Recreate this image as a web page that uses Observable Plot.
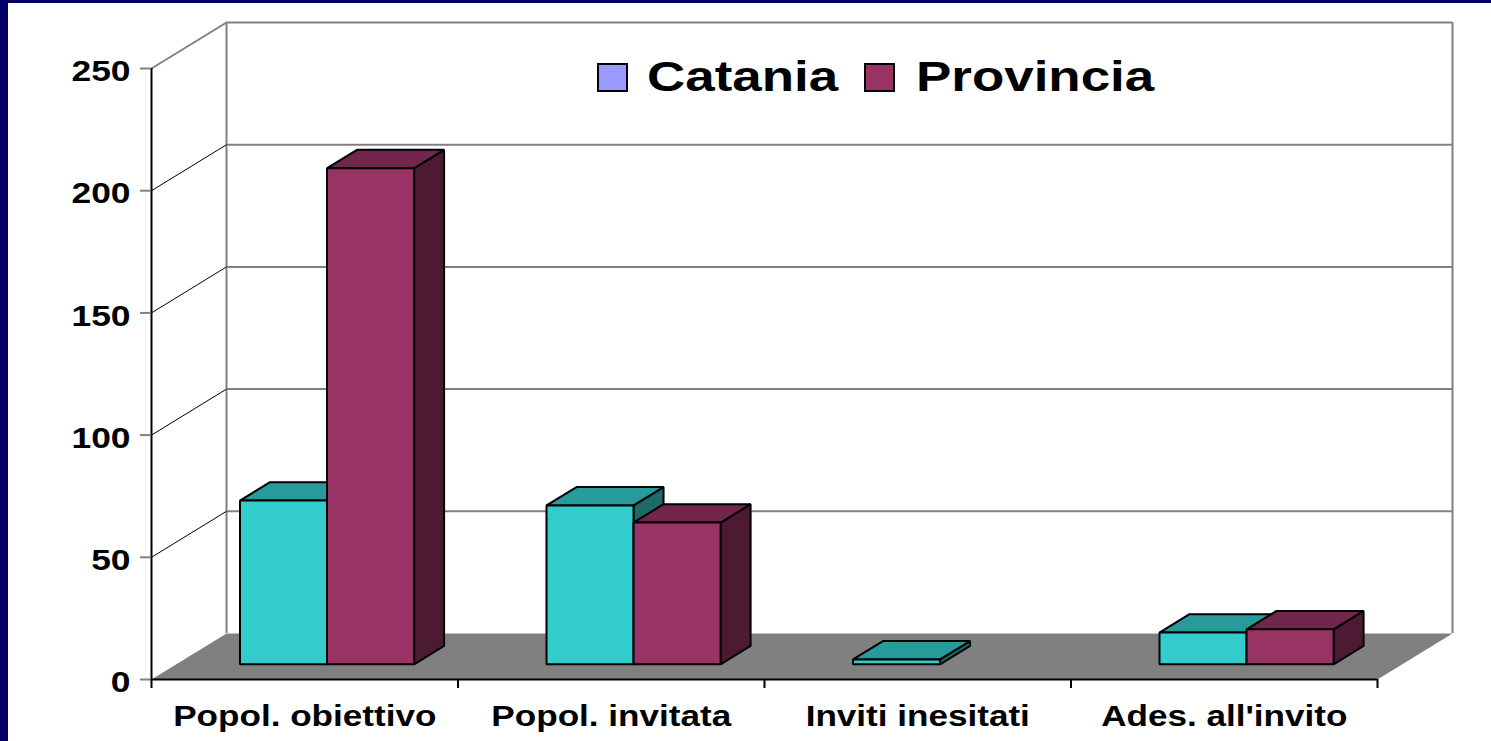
<!DOCTYPE html>
<html>
<head>
<meta charset="utf-8">
<script src="https://cdn.jsdelivr.net/npm/d3@7"></script>
<script src="https://cdn.jsdelivr.net/npm/@observablehq/plot@0.6"></script>
<style>
  html, body { margin: 0; padding: 0; }
  body { width: 1491px; height: 741px; background: #000066; position: relative; overflow: hidden;
         font-family: "Liberation Sans", Arial, sans-serif; font-weight: bold; }
  #chart { position: absolute; left: 8px; top: 3px; width: 1483px; height: 738px; background: #ffffff; }
  .lbox { position: absolute; box-sizing: border-box; border: 2px solid #000; }
  .ltext { position: absolute; font-size: 42px; line-height: 42px; color: #000; white-space: nowrap;
           transform: scaleX(1.26); transform-origin: left center; }
</style>
</head>
<body>
<div id="chart"></div>
<div id="legend"></div>
<script>
// ---- data ----
const categories = ["Popol. obiettivo", "Popol. invitata", "Inviti inesitati", "Ades. all'invito"];
const seriesNames = ["Catania", "Provincia"];
const catania = [67, 65, 2, 13];
const provincia = [203, 58, 0, 14.3];
const yTicks = [0, 50, 100, 150, 200, 250];
const legendColors = ["#9999FF", "#993366"];

// ---- styles ----
const palettes = [
  { front: "#33CCCC", top: "#279B9B", side: "#1B6B6B" },
  { front: "#993366", top: "#73264D", side: "#4D1A33" }
];

// oblique 3D projection expressed in data units
const n = categories.length;
const DX = 0.2447, DY = 18.82;      // full depth of the plot box
const D0 = 0.33, D1 = 0.73;         // bar depth span (fraction of box depth)
const X0 = 0.208, BW = 0.284;       // bar start offset in band and bar width
const proj = (x, y, d) => ({ px: x + d * DX, py: y + d * DY });

const faces = [];
const seriesValues = [catania, provincia];
categories.forEach((c, i) => {
  seriesValues.forEach((vals, s) => {
    const v = vals[i];
    if (!(v > 0)) return;
    const x0 = i + X0 + s * BW, x1 = x0 + BW;
    const pal = palettes[s];
    const add = (name, pts, color) =>
      pts.forEach(([x, y, d]) => faces.push({ id: `${i}-${s}-${name}`, color, ...proj(x, y, d) }));
    add("side", [[x1, 0, D0], [x1, 0, D1], [x1, v, D1], [x1, v, D0]], pal.side);
    add("top", [[x0, v, D0], [x1, v, D0], [x1, v, D1], [x0, v, D1]], pal.top);
    add("front", [[x0, 0, D0], [x1, 0, D0], [x1, v, D0], [x0, v, D0]], pal.front);
  });
});

const yMax = yTicks[yTicks.length - 1];
const floor = [[0, 0, 0], [n, 0, 0], [n, 0, 1], [0, 0, 1]].map(([x, y, d]) => proj(x, y, d));

const plot = Plot.plot({
  width: 1483,
  height: 738,
  marginLeft: 143,
  marginRight: 114,
  marginTop: 65,
  marginBottom: 62,
  x: { domain: [0, n], label: null },
  y: { domain: [0, yMax], label: null },
  color: { type: "identity" },
  style: { fontFamily: "'Liberation Sans', Arial, sans-serif", fontWeight: "bold", background: "white", overflow: "visible" },
  marks: [
    // floor
    Plot.line(floor, { x: "px", y: "py", fill: "#808080", stroke: "none", curve: "linear-closed" }),
    // back wall gridlines + top edge
    Plot.ruleY(yTicks.filter(v => v > 0), { y: v => v + DY, x1: DX, x2: n + DX, stroke: "#808080", strokeWidth: 2 }),
    // back wall vertical edges
    Plot.ruleX([DX, n + DX], { y1: DY, y2: yMax + DY, stroke: "#808080", strokeWidth: 2 }),
    // left wall diagonals
    Plot.link(yTicks.filter(v => v > 0 && v < yMax), { x1: 0, x2: DX, y1: v => v, y2: v => v + DY, stroke: "#000", strokeWidth: 1 }),
    Plot.link([yMax], { x1: 0, x2: DX, y1: v => v, y2: v => v + DY, stroke: "#808080", strokeWidth: 2 }),
    // bars
    Plot.line(faces, { x: "px", y: "py", z: "id", fill: "color", stroke: "#000", strokeWidth: 2, curve: "linear-closed", strokeLinejoin: "miter" }),
    // axis lines
    Plot.ruleX([0], { y1: 0, y2: yMax, stroke: "#000", strokeWidth: 2 }),
    Plot.ruleY([0], { x1: 0, x2: n, stroke: "#000", strokeWidth: 2 }),
    // y ticks and labels
    Plot.axisY({ ticks: yTicks, label: null, tickSize: 11, tickFormat: () => "", stroke: "#808080", strokeWidth: 2 }),
    Plot.axisY({ ticks: yTicks, label: null, tickSize: 0, tickPadding: 21, fontSize: 30, fontWeight: "bold", fill: "#000", dy: 3 }),
    // x ticks and labels
    Plot.axisX({ ticks: d3.range(n + 1), label: null, tickSize: 9, tickFormat: () => "", stroke: "#000", strokeWidth: 2 }),
    Plot.axisX({ ticks: d3.range(n).map(i => i + 0.5), label: null, tickSize: 0, tickPadding: 26, fontSize: 29, fontWeight: "bold", fill: "#000",
                 tickFormat: d => categories[Math.floor(d)] })
  ]
});
document.getElementById("chart").appendChild(plot);

// stretch tick labels horizontally like the original
plot.querySelectorAll('g[aria-label="y-axis tick label"] text').forEach(t => {
  const w = t.getComputedTextLength();
  if (w > 0) { t.setAttribute("textLength", w * 1.18); t.setAttribute("lengthAdjust", "spacingAndGlyphs"); }
});
plot.querySelectorAll('g[aria-label="x-axis tick label"] text').forEach(t => {
  const w = t.getComputedTextLength();
  if (w > 0) { t.setAttribute("textLength", w * 1.21); t.setAttribute("lengthAdjust", "spacingAndGlyphs"); }
});

// legend (inside plot area)
const legend = document.getElementById("legend");
const legendPos = [{ box: 597, text: 647 }, { box: 864, text: 916 }];
seriesNames.forEach((name, i) => {
  const b = document.createElement("div");
  b.className = "lbox";
  b.style.left = legendPos[i].box + "px";
  b.style.top = "63px";
  b.style.width = "31px";
  b.style.height = "29px";
  b.style.background = legendColors[i];
  legend.appendChild(b);
  const t = document.createElement("div");
  t.className = "ltext";
  t.style.left = legendPos[i].text + "px";
  t.style.top = "56px";
  t.textContent = name;
  legend.appendChild(t);
});
</script>
</body>
</html>
